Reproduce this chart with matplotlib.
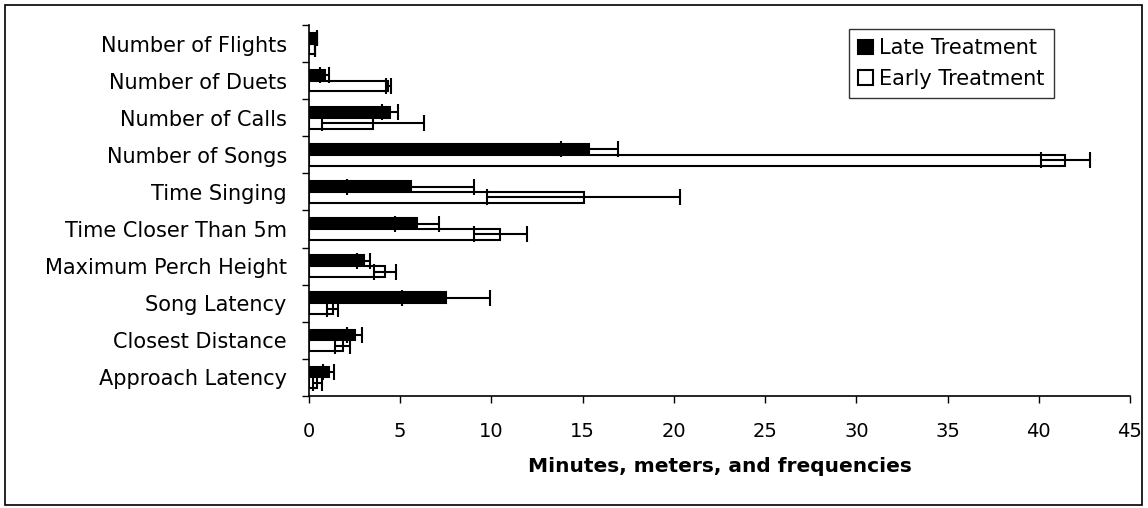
import matplotlib
matplotlib.use("Agg")
import matplotlib.pyplot as plt
from matplotlib.patches import Rectangle
import numpy as np

categories = ["Number of Flights", "Number of Duets", "Number of Calls", "Number of Songs",
              "Time Singing", "Time Closer Than 5m", "Maximum Perch Height", "Song Latency",
              "Closest Distance", "Approach Latency"]
late = [0.42, 0.85, 4.42, 15.37, 5.57, 5.9, 3.0, 7.5, 2.5, 1.08]
late_err = [0.0, 0.27, 0.44, 1.55, 3.5, 1.2, 0.35, 2.42, 0.4, 0.3]
early = [0.33, 4.35, 3.51, 41.45, 15.05, 10.49, 4.17, 1.3, 1.84, 0.45]
early_err = [0.0, 0.13, 2.81, 1.35, 5.3, 1.44, 0.6, 0.3, 0.41, 0.25]
xticks = [0, 5, 10, 15, 20, 25, 30, 35, 40, 45]
xlabel = "Minutes, meters, and frequencies"

plt.rcParams['font.family'] = ['DejaVu Sans']
fig = plt.figure(figsize=(11.48, 5.08), dpi=100)
ax = fig.add_axes([309/1148, 112/508, (1130-309)/1148, (396-25)/508])

y = np.arange(len(categories))
bw = 0.29
err_kw = dict(ecolor='black', elinewidth=1.5, capsize=5.5, capthick=1.5)
ax.barh(y - bw/2, late, height=bw, color='black', edgecolor='black', linewidth=1.5,
        xerr=late_err, error_kw=err_kw, label="Late Treatment", zorder=2)
ax.barh(y + bw/2, early, height=bw, color='white', edgecolor='black', linewidth=1.5,
        xerr=early_err, error_kw=err_kw, label="Early Treatment", zorder=2)

ax.set_ylim(len(categories) - 0.5, -0.5)
ax.set_xlim(0, 45)
ax.set_xticks(xticks)
ax.set_xticklabels([str(t) for t in xticks])
ax.set_yticks(y)
ax.set_yticklabels(categories)
ax.set_yticks(np.arange(-0.5, len(categories), 1.0), minor=True)
ax.tick_params(axis='y', which='major', length=0, pad=16, labelsize=15)
ax.tick_params(axis='y', which='minor', length=5, width=1, direction='out')
ax.tick_params(axis='x', which='major', length=5, width=1, direction='out', pad=14, labelsize=14)

for s in ['top', 'right']:
    ax.spines[s].set_visible(False)
for s in ['left', 'bottom']:
    ax.spines[s].set_linewidth(1.2)

ax.set_xlabel(xlabel, fontsize=14.5, fontweight='bold', labelpad=11)

leg = ax.legend(loc='upper left', bbox_to_anchor=((849-309)/821, (396-29)/371),
                fontsize=15, frameon=True, fancybox=False, edgecolor='black',
                handlelength=0.7, handleheight=0.7, handletextpad=0.3, borderpad=0.45,
                labelspacing=0.5, borderaxespad=0)
leg.get_frame().set_linewidth(1.0)

fig.patches.append(Rectangle((5/1148, 3/508), 1137/1148, 500/508, transform=fig.transFigure,
                             fill=False, edgecolor='black', linewidth=1.2))

fig.savefig("out.png", dpi=100)
